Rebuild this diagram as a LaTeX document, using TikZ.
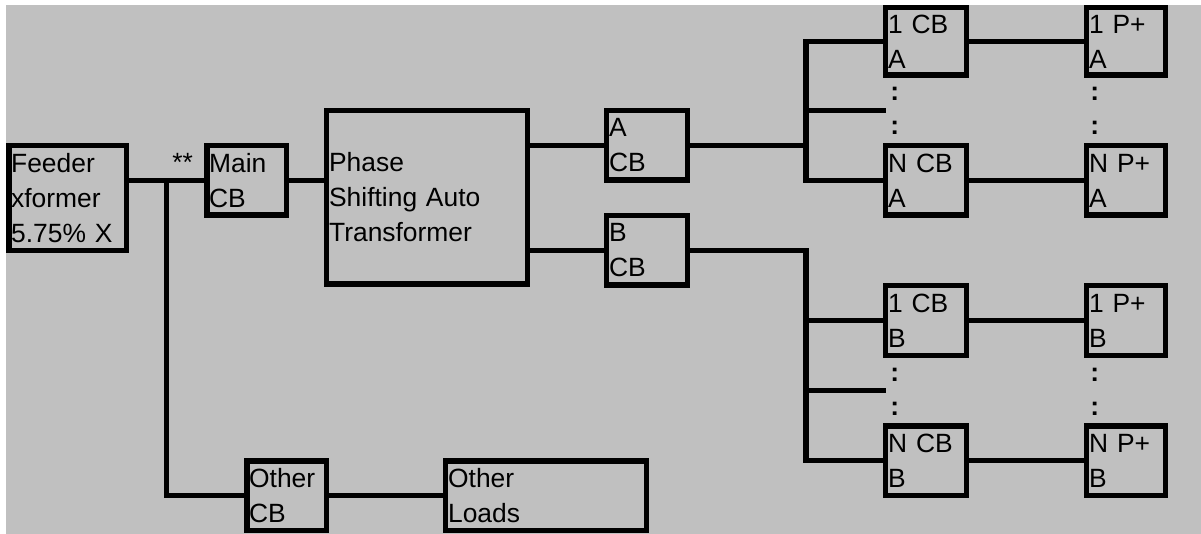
\documentclass[tikz,border=0pt]{standalone}
\usepackage{fontspec}
\setmainfont{Liberation Sans}
\definecolor{bg}{RGB}{192,192,192}
\newcommand\diafont{\fontsize{19.8pt}{26.25pt}\selectfont}
\tikzset{
  box/.style={draw=black, line width=4.1pt, inner xsep=1.8pt, inner ysep=0pt, align=left, font=\diafont},
  sbox/.style={text width=56.8pt, minimum height=52.1pt},
  pbox/.style={text width=55.3pt, minimum height=52.1pt},
  wire/.style={draw=black, line width=4.1pt, line join=miter},
  lbl/.style={inner sep=0pt, font=\diafont},
  dotlbl/.style={inner sep=0pt, font=\diafont\bfseries}
}
\begin{document}
\begin{tikzpicture}[x=0.75pt,y=-0.75pt]
\useasboundingbox (0,0) rectangle (1201,534);
\fill[bg] (6,5) rectangle (1201,534);
% boxes
\node[box, text width=84.5pt, minimum height=78.4pt] (feeder) at (67.5,198) {Feeder\\xformer\\5.75\% X};
\node[box, text width=56pt, minimum height=52.1pt] (main) at (246.5,180.5) {Main\\CB};
\node[box, text width=146.8pt, minimum height=130.1pt] (pst) at (427,197.5) {Phase\\Shifting Auto\\Transformer};
\node[box, sbox] (acb) at (647,145.5) {A\\CB};
\node[box, sbox] (bcb) at (647,250.5) {B\\CB};
\node[box, sbox, minimum height=50.6pt] (cb1a) at (926,41.5) {1 CB\\A};
\node[box, sbox] (cbna) at (926,180.5) {N CB\\A};
\node[box, pbox, minimum height=50.6pt] (p1a) at (1126,41.5) {1 P+\\A};
\node[box, pbox] (pna) at (1126,180.5) {N P+\\A};
\node[box, sbox] (cb1b) at (926,320.5) {1 CB\\B};
\node[box, sbox] (cbnb) at (926,460.5) {N CB\\B};
\node[box, pbox] (p1b) at (1126,320.5) {1 P+\\B};
\node[box, pbox] (pnb) at (1126,460.5) {N P+\\B};
\node[box, text width=56pt, minimum height=52.1pt] (ocb) at (286.5,495.5) {Other\\CB};
\node[box, text width=146.8pt, minimum height=52.1pt] (oload) at (546,495.5) {Other\\Loads};
% labels
\node[lbl, anchor=base west] (ast) at (172,172) {**};
\foreach \n/\x/\y in {ca1/890/101, ca2/890/135, pa1/1090/101, pa2/1090/135,
                      cb1/890/381, cb2/890/415, pb1/1090/381, pb2/1090/415}
  \node[dotlbl, anchor=base west] (\n) at (\x,\y) {:};
% junction points
\coordinate (j0) at (166.5,181);
\coordinate (ja) at (806,145.5);
\coordinate (jb) at (806,250.5);
\coordinate (ma) at (886,110.5);
\coordinate (mb) at (886,390.5);
% wires
\draw[wire] (feeder.east |- main.west) -- (main.west);
\draw[wire] (j0) |- (ocb.west);
\draw[wire] (ocb) -- (oload);
\draw[wire] (main.east) -- (main.east -| pst.west);
\draw[wire] (acb.west -| pst.east) -- (acb.west);
\draw[wire] (bcb.west -| pst.east) -- (bcb.west);
\draw[wire] (acb.east) -- (ja);
\draw[wire] (cb1a.west) -- (cb1a.west -| ja) -- (cbna.west -| ja) -- (cbna.west);
\draw[wire] (ma -| ja) -- (ma);
\draw[wire] (bcb.east) -- (jb) -- (cbnb.west -| jb) -- (cbnb.west);
\draw[wire] (cb1b.west -| jb) -- (cb1b.west);
\draw[wire] (mb -| jb) -- (mb);
\draw[wire] (cb1a) -- (p1a);
\draw[wire] (cbna) -- (pna);
\draw[wire] (cb1b) -- (p1b);
\draw[wire] (cbnb) -- (pnb);
\end{tikzpicture}
\end{document}
